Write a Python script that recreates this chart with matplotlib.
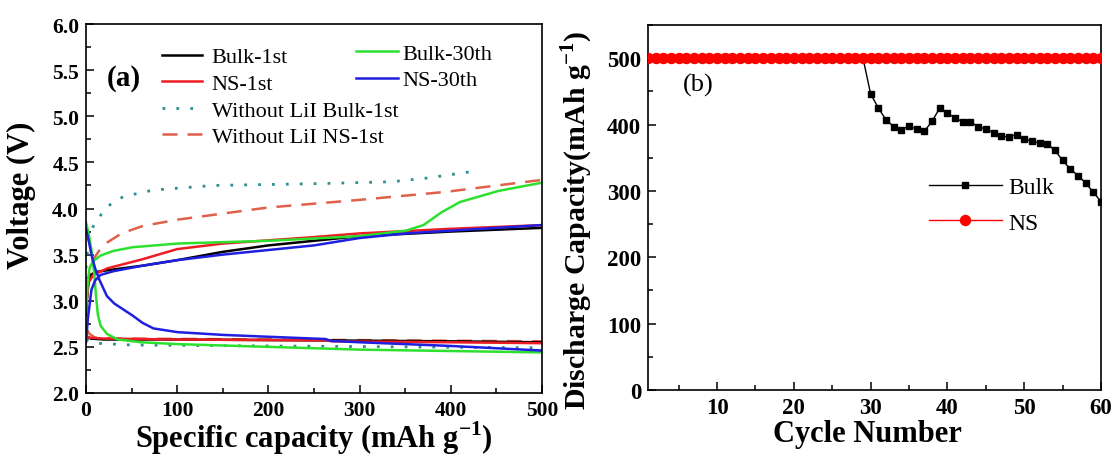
import numpy as np
import matplotlib
matplotlib.use("Agg")
import matplotlib.pyplot as plt
from matplotlib.ticker import MultipleLocator
from matplotlib.lines import Line2D

plt.rcParams['font.family'] = ['Liberation Serif', 'DejaVu Serif']
plt.rcParams['mathtext.fontset'] = 'custom'
plt.rcParams['mathtext.rm'] = 'Liberation Serif'
plt.rcParams['mathtext.bf'] = 'Liberation Serif:bold'

# ---------------- Panel (a) data: voltage profiles ----------------
bulk1_charge_cap = [0, 2, 4, 10, 23, 62, 100, 150, 200, 250, 300, 400, 500]
bulk1_charge_v = [2.85, 3.15, 3.27, 3.31, 3.33, 3.38, 3.44, 3.53, 3.60, 3.65, 3.70, 3.75, 3.79]
bulk1_dis_cap = [0, 5, 20, 100, 265, 400, 500]
bulk1_dis_v = [2.62, 2.59, 2.58, 2.58, 2.57, 2.56, 2.55]

ns1_charge_cap = [0, 3, 8, 23, 62, 100, 150, 250, 300, 400, 500]
ns1_charge_v = [2.95, 3.20, 3.28, 3.35, 3.45, 3.56, 3.62, 3.69, 3.73, 3.78, 3.82]
ns1_dis_cap = [0, 3, 20, 100, 265, 270, 400, 500]
ns1_dis_v = [2.62, 2.60, 2.59, 2.58, 2.57, 2.56, 2.55, 2.54]

nolii_bulk_charge_cap = [0, 3, 10, 14, 23, 41, 74, 140, 257, 335, 374, 423]
nolii_bulk_charge_v = [3.35, 3.70, 3.85, 3.90, 4.02, 4.13, 4.20, 4.25, 4.27, 4.29, 4.33, 4.40]
nolii_bulk_dis_cap = [0, 10, 50, 200, 500]
nolii_bulk_dis_v = [2.58, 2.54, 2.52, 2.51, 2.49]

nolii_ns_charge_cap = [0, 8, 15, 23, 39, 62, 101, 199, 296, 394, 500]
nolii_ns_charge_v = [3.15, 3.45, 3.55, 3.63, 3.73, 3.81, 3.88, 4.01, 4.09, 4.18, 4.31]
nolii_ns_dis_cap = [0, 4, 10, 40, 200, 500]
nolii_ns_dis_v = [2.70, 2.64, 2.60, 2.59, 2.58, 2.56]

bulk30_charge_cap = [0, 2, 4, 8, 16, 30, 51, 100, 200, 300, 351, 370, 390, 410, 452, 500]
bulk30_charge_v = [2.90, 3.20, 3.36, 3.43, 3.49, 3.54, 3.58, 3.62, 3.65, 3.70, 3.76, 3.82, 3.96, 4.07, 4.19, 4.28]
bulk30_dis_cap = [0, 3, 6, 9, 11, 13, 16, 23, 35, 60, 100, 200, 300, 400, 500]
bulk30_dis_v = [3.85, 3.72, 3.55, 3.30, 3.05, 2.85, 2.73, 2.64, 2.58, 2.55, 2.53, 2.50, 2.47, 2.455, 2.44]

ns30_charge_cap = [0, 2, 6, 10, 16, 30, 62, 100, 150, 200, 250, 300, 351, 400, 500]
ns30_charge_v = [2.55, 2.80, 3.12, 3.22, 3.28, 3.32, 3.38, 3.44, 3.50, 3.55, 3.60, 3.68, 3.73, 3.76, 3.82]
ns30_dis_cap = [0, 3, 6, 10, 15, 23, 31, 51, 62, 74, 100, 150, 199, 263, 268, 300, 400, 500]
ns30_dis_v = [3.78, 3.65, 3.50, 3.35, 3.22, 3.05, 2.97, 2.84, 2.76, 2.70, 2.66, 2.63, 2.61, 2.585, 2.565, 2.55, 2.51, 2.46]

# ---------------- Panel (b) data: cycling ----------------
cycles = [1, 2, 3, 4, 5, 6, 7, 8, 9, 10, 11, 12, 13, 14, 15, 16, 17, 18, 19, 20,
          21, 22, 23, 24, 25, 26, 27, 28, 29, 30, 31, 32, 33, 34, 35, 36, 37, 38, 39, 40,
          41, 42, 43, 44, 45, 46, 47, 48, 49, 50, 51, 52, 53, 54, 55, 56, 57, 58, 59, 60]
bulk_capacity = [500, 500, 500, 500, 500, 500, 500, 500, 500, 500,
                 500, 500, 500, 500, 500, 500, 500, 500, 500, 500,
                 500, 500, 500, 500, 500, 500, 500, 500, 500, 446,
                 425, 407, 397, 392, 398, 393, 390, 405, 425, 417,
                 410, 404, 404, 397, 393, 388, 383, 381, 385, 378,
                 375, 372, 371, 361, 346, 333, 323, 312, 298, 284]
ns_capacity = [500, 500, 500, 500, 500, 500, 500, 500, 500, 500,
               500, 500, 500, 500, 500, 500, 500, 500, 500, 500,
               500, 500, 500, 500, 500, 500, 500, 500, 500, 500,
               500, 500, 500, 500, 500, 500, 500, 500, 500, 500,
               500, 500, 500, 500, 500, 500, 500, 500, 500, 500,
               500, 500, 500, 500, 500, 500, 500, 500, 500, 500]

C_BLACK = '#000000'
C_RED = '#ee1c24'
C_GREEN = '#2ee02e'
C_BLUE = '#1f1fe0'
C_TEAL = '#2f8f8f'
C_SALMON = '#e0604a'

W, H = 1116, 456
fig = plt.figure(figsize=(W / 100, H / 100), dpi=100)

ax1 = fig.add_axes([86 / W, 1 - 394 / H, 456 / W, 369 / H])
ax2 = fig.add_axes([648 / W, 1 - 391 / H, 453 / W, 365 / H])

lw = 1.8
dot = (0, (1, 4))
dash = (0, (6, 4))
ax1.plot(nolii_bulk_charge_cap, nolii_bulk_charge_v, color=C_TEAL, lw=2, ls=dot)
ax1.plot(nolii_bulk_dis_cap, nolii_bulk_dis_v, color=C_TEAL, lw=2, ls=dot)
ax1.plot(nolii_ns_charge_cap, nolii_ns_charge_v, color=C_SALMON, lw=lw, ls=dash)
ax1.plot(nolii_ns_dis_cap, nolii_ns_dis_v, color=C_SALMON, lw=lw, ls=dash)
ax1.plot(bulk1_charge_cap, bulk1_charge_v, color=C_BLACK, lw=lw)
ax1.plot(bulk1_dis_cap, bulk1_dis_v, color=C_BLACK, lw=lw)
ax1.plot(ns1_charge_cap, ns1_charge_v, color=C_RED, lw=lw)
ax1.plot(ns1_dis_cap, ns1_dis_v, color=C_RED, lw=lw)
ax1.plot(bulk30_charge_cap, bulk30_charge_v, color=C_GREEN, lw=lw)
ax1.plot(bulk30_dis_cap, bulk30_dis_v, color=C_GREEN, lw=lw)
ax1.plot(ns30_charge_cap, ns30_charge_v, color=C_BLUE, lw=lw)
ax1.plot(ns30_dis_cap, ns30_dis_v, color=C_BLUE, lw=lw)

ax1.set_xlim(0, 500)
ax1.set_ylim(2.0, 6.0)
ax1.xaxis.set_major_locator(MultipleLocator(100))
ax1.xaxis.set_minor_locator(MultipleLocator(50))
ax1.yaxis.set_major_locator(MultipleLocator(0.5))
ax1.yaxis.set_minor_locator(MultipleLocator(0.25))
ax1.yaxis.set_major_formatter(matplotlib.ticker.FormatStrFormatter('%.1f'))

h1 = [Line2D([], [], color=C_BLACK, lw=lw),
      Line2D([], [], color=C_RED, lw=lw),
      Line2D([], [], color=C_TEAL, lw=2, ls=dot),
      Line2D([], [], color=C_SALMON, lw=lw, ls=dash)]
l1 = ['Bulk-1st', 'NS-1st', 'Without LiI Bulk-1st', 'Without LiI NS-1st']
leg1 = ax1.legend(h1, l1, loc='upper left', bbox_to_anchor=(0.166, 0.938),
                  frameon=False, fontsize=16, handlelength=1.8, handletextpad=0.45,
                  labelspacing=0.27, borderpad=0, borderaxespad=0)
ax1.add_artist(leg1)
h2 = [Line2D([], [], color=C_GREEN, lw=lw), Line2D([], [], color=C_BLUE, lw=lw)]
l2 = ['Bulk-30th', 'NS-30th']
ax1.legend(h2, l2, loc='upper left', bbox_to_anchor=(0.593, 0.948),
           frameon=False, fontsize=16, handlelength=1.85, handletextpad=0.23,
           labelspacing=0.27, borderpad=0, borderaxespad=0)
ax1.text(0.046, 0.856, '(a)', transform=ax1.transAxes, fontsize=21,
         fontweight='bold', ha='left', va='center')
ax1.set_xlabel(r'Specific capacity (mAh g$^{\mathbf{-1}}$)', fontsize=22, fontweight='bold')
ax1.set_ylabel('Voltage (V)', fontsize=22, fontweight='bold')
ax1.xaxis.set_label_coords(0.5, -0.068)
ax1.yaxis.set_label_coords(-0.11, 0.539)

# Panel (b)
ax2.plot(cycles, bulk_capacity, color=C_BLACK, lw=1.0, marker='s', ms=5,
         label='Bulk', zorder=2)
ax2.plot(cycles, ns_capacity, color='#ff0000', lw=1.0, marker='o', ms=7.2,
         label='NS', zorder=3)
ax2.set_xlim(1, 60)
ax2.set_ylim(0, 550)
ax2.xaxis.set_major_locator(MultipleLocator(10))
ax2.xaxis.set_minor_locator(MultipleLocator(5))
ax2.yaxis.set_major_locator(MultipleLocator(100))
ax2.yaxis.set_minor_locator(MultipleLocator(50))
ax2.legend(loc='center left', bbox_to_anchor=(0.62, 0.507), frameon=False,
           fontsize=17, handlelength=3.1, handletextpad=0.27, labelspacing=0.6,
           borderpad=0, borderaxespad=0)
ax2.text(0.077, 0.838, '(b)', transform=ax2.transAxes, fontsize=19,
         ha='left', va='center')
ax2.set_xlabel('Cycle Number', fontsize=22, fontweight='bold')
ax2.set_ylabel(r'Discharge Capacity(mAh g$^{\mathbf{-1}}$)', fontsize=21.5, fontweight='bold')
ax2.xaxis.set_label_coords(0.485, -0.08)
ax2.yaxis.set_label_coords(-0.117, 0.468)

for ax, fs in ((ax1, 15.5), (ax2, 16.5)):
    for s in ax.spines.values():
        s.set_linewidth(1.2)
    ax.tick_params(which='both', direction='in', top=False, right=False,
                   width=1.1, pad=5, labelsize=fs)
    ax.tick_params(which='major', length=6)
    ax.tick_params(which='minor', length=3.5)
    for lab in ax.get_xticklabels() + ax.get_yticklabels():
        lab.set_fontweight('bold')

fig.savefig('out.png', dpi=100)
